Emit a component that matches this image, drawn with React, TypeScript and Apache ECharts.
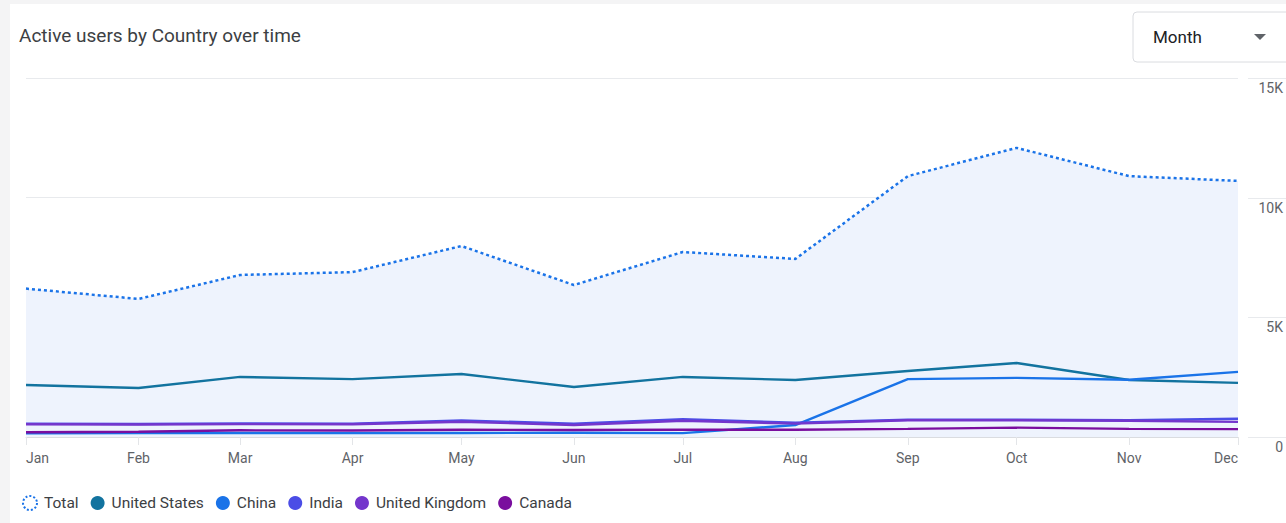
import React, { useEffect, useRef } from "react";
import * as echarts from "echarts";

const monthNames = ["Jan", "Feb", "Mar", "Apr", "May", "Jun", "Jul", "Aug", "Sep", "Oct", "Nov", "Dec"];
const year = 2023;

const totalUsers = [6200, 5770, 6770, 6890, 7980, 6350, 7730, 7440, 10900, 12080, 10900, 10700];
const unitedStates = [2170, 2050, 2510, 2420, 2630, 2090, 2510, 2380, 2760, 3090, 2380, 2260];
const china = [150, 160, 170, 160, 170, 180, 160, 500, 2420, 2470, 2390, 2720];
const india = [560, 545, 570, 560, 690, 560, 740, 600, 720, 720, 700, 760];
const unitedKingdom = [530, 520, 540, 530, 640, 500, 680, 560, 700, 700, 680, 630];
const canada = [200, 220, 280, 270, 300, 290, 310, 300, 340, 390, 340, 330];

const yTicks = [0, 5000, 10000, 15000];
const yTickLabels = ["0", "5K", "10K", "15K"];
const yMax = 15000;

const colors = {
  total: "#1a73e8",
  us: "#12739f",
  china: "#1a73e8",
  india: "#4b4de6",
  uk: "#7436cc",
  canada: "#7a0e9e",
};

const font = "Roboto, 'Noto Sans', Arial, sans-serif";
const W = 1286;
const H = 523;
const gridPos = { left: 26, right: 44, top: 78, bottom: 86 };

export default function App() {
  const ref = useRef<HTMLDivElement>(null);

  useEffect(() => {
    if (!ref.current) return;
    const chart = echarts.init(ref.current, undefined, { renderer: "svg" });
    const dates = monthNames.map((_, i) => new Date(year, i, 1).getTime());
    const pair = (arr: number[]) => arr.map((v, i) => [dates[i], v]);
    const lineSeries = (name: string, data: number[], color: string) => ({
      name,
      type: "line",
      data: pair(data),
      symbol: "none",
      lineStyle: { color, width: 2.4 },
      itemStyle: { color },
      emphasis: { disabled: true },
    });

    const plotH = H - gridPos.top - gridPos.bottom;
    const ext = yTicks.map((v) => {
      const y = Math.round(H - gridPos.bottom - (v / yMax) * plotH) + 0.5;
      return {
        type: "line",
        shape: { x1: W - gridPos.right + 6, y1: y, x2: W, y2: y },
        style: { stroke: "#e8eaed", lineWidth: 1 },
      };
    });

    chart.setOption({
      animation: false,
      textStyle: { fontFamily: font },
      title: {
        text: "Active users by Country over time",
        left: 19,
        top: 26,
        padding: 0,
        textStyle: { fontFamily: font, fontSize: 19, fontWeight: "normal", color: "#3c4043" },
      },
      grid: gridPos,
      xAxis: {
        type: "time",
        min: dates[0],
        max: dates[dates.length - 1],
        splitNumber: 12,
        minInterval: 28 * 86400000,
        maxInterval: 31 * 86400000,
        axisLine: { show: true, lineStyle: { color: "#dadce0", width: 1 } },
        axisTick: { show: true, length: 8, lineStyle: { color: "#e3e5e8" } },
        splitLine: { show: false },
        axisLabel: {
          color: "#5f6368",
          fontSize: 14,
          fontFamily: font,
          margin: 14,
          showMinLabel: true,
          showMaxLabel: true,
          alignMinLabel: "left",
          alignMaxLabel: "right",
          hideOverlap: false,
          formatter: (v: number) => monthNames[new Date(v).getMonth()],
        },
      },
      yAxis: {
        type: "value",
        position: "right",
        min: 0,
        max: yMax,
        interval: 5000,
        axisLine: { show: false },
        axisTick: { show: false },
        splitLine: { show: true, lineStyle: { color: "#e8eaed", width: 1 } },
        axisLabel: {
          color: "#5f6368",
          fontSize: 14,
          fontFamily: font,
          align: "right",
          margin: 45,
          verticalAlign: "top",
          padding: [3, 0, 0, 0],
          formatter: (v: number) => yTickLabels[yTicks.indexOf(v)] ?? String(v),
        },
      },
      legend: {
        left: 17,
        bottom: 7,
        itemWidth: 14,
        itemHeight: 14,
        itemGap: 12,
        icon: "circle",
        selectedMode: false,
        textStyle: { color: "#3c4043", fontSize: 15.5, fontFamily: font, padding: [0, 0, 0, 2] },
        data: [
          {
            name: "Total",
            icon: "circle",
            itemStyle: { color: "#ffffff", borderColor: colors.total, borderWidth: 2, borderType: [2, 2] },
          },
          { name: "United States" },
          { name: "China" },
          { name: "India" },
          { name: "United Kingdom" },
          { name: "Canada" },
        ],
      },
      series: [
        {
          name: "Total",
          type: "line",
          data: pair(totalUsers),
          symbol: "none",
          lineStyle: { color: colors.total, width: 2.5, type: [3, 3] },
          itemStyle: { color: colors.total },
          areaStyle: { color: "#eef3fd", opacity: 1 },
          emphasis: { disabled: true },
        },
        lineSeries("United States", unitedStates, colors.us),
        lineSeries("China", china, colors.china),
        lineSeries("India", india, colors.india),
        lineSeries("United Kingdom", unitedKingdom, colors.uk),
        lineSeries("Canada", canada, colors.canada),
      ],
      graphic: [
        {
          type: "rect",
          shape: { x: 1133, y: 12, width: 170, height: 50, r: 4 },
          style: { fill: "#ffffff", stroke: "#dadce0", lineWidth: 1 },
        },
        {
          type: "text",
          x: 1153,
          y: 37,
          style: {
            text: "Month",
            fill: "#202124",
            font: `17px ${font}`,
            verticalAlign: "middle",
          },
        },
        {
          type: "polygon",
          shape: { points: [[1254, 34], [1266, 34], [1260, 40]] },
          style: { fill: "#5f6368" },
        },
        ...ext,
      ],
    });

    return () => chart.dispose();
  }, []);

  return (
    <div style={{ position: "fixed", left: 0, top: 0, width: W, height: H, background: "#f4f4f5" }}>
      <div style={{ position: "absolute", left: 10, top: 4, right: 0, bottom: 0, background: "#ffffff" }} />
      <div ref={ref} style={{ position: "absolute", left: 0, top: 0, width: W, height: H }} />
    </div>
  );
}
